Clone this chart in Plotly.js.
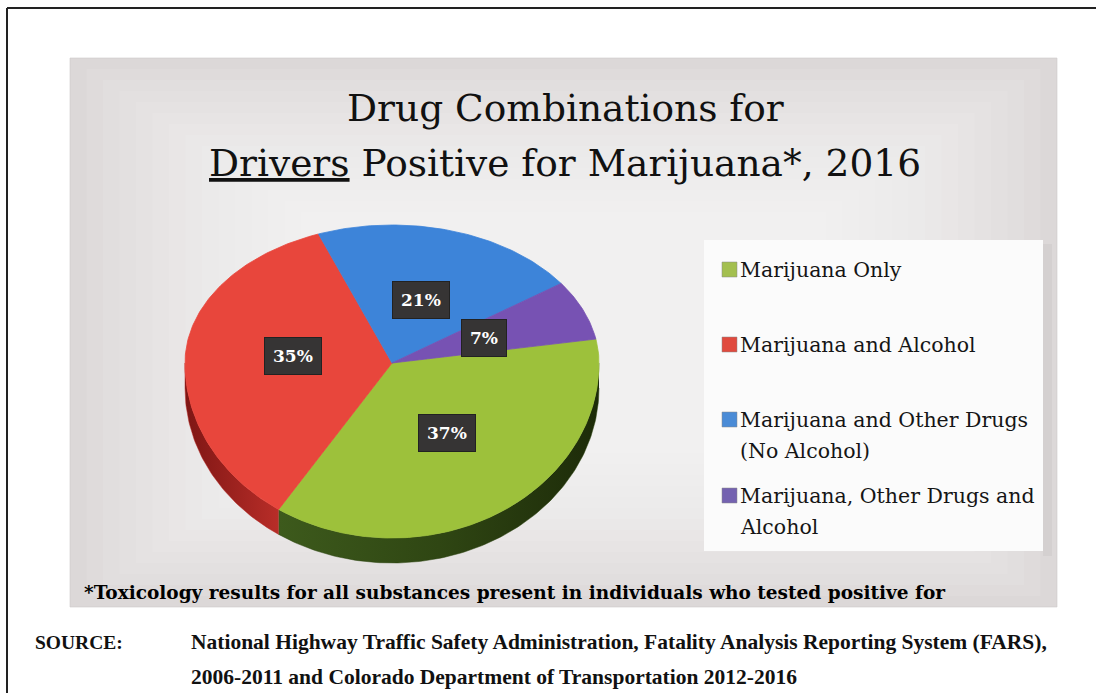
<!DOCTYPE html>
<html>
<head>
<meta charset="utf-8">
<script src="https://cdn.plot.ly/plotly-3.0.1.min.js"></script>
<style>html,body{margin:0;padding:0;background:#fff;}#chart{width:1096px;height:693px;}</style>
</head>
<body>
<div id="chart"></div>
<script>
// ---- data ----
const categories = ["Marijuana Only", "Marijuana and Alcohol", "Marijuana and Other Drugs<br>(No Alcohol)", "Marijuana, Other Drugs and<br>Alcohol"];
const values = [37, 35, 21, 7];
const topColors = ["#9dc13b", "#e8463c", "#3d84d9", "#7752b3"];
const legendColors = ["#a3bf4f", "#e04a3e", "#4a8bd6", "#7462b0"];
const sideScales = [
  [[0, "#3d5a1c"], [0.5, "#2f4613"], [1, "#1d2b09"]],
  [[0, "#7e1614"], [1, "#b82d28"]],
  [[0, "#1f4f8c"], [1, "#2c65aa"]],
  [[0, "#44306e"], [1, "#563e8a"]]
];
const titleLines = ["Drug Combinations for", "<u>Drivers</u> Positive for Marijuana*, 2016"];
const footnote = "*Toxicology results for all substances present in individuals who tested positive for";
const sourceLabel = "SOURCE:";
const sourceLines = ["National Highway Traffic Safety Administration, Fatality Analysis Reporting System (FARS),", "2006-2011 and Colorado Department of Transportation 2012-2016"];

// ---- geometry (layout) ----
const W = 1096, H = 693;
const px = x => x / W, py = y => 1 - y / H;
const R = 207;           // horizontal radius in px = 1 data unit
const CX = 392, CY = 363; // pie centre in px
const kTop = 138 / R, kBot = 175 / R, depth = 25 / R;
const startAngle = 10;   // degrees, slices run clockwise
const xr = [-1.1, 1.1], yr = [-1.1, 0.8];
const xDomain = [px(CX + xr[0] * R), px(CX + xr[1] * R)];
const yDomain = [py(CY - yr[0] * R), py(CY - yr[1] * R)];

function pt(deg, drop) {
  const t = deg * Math.PI / 180;
  const s = Math.sin(t);
  return [Math.cos(t), s * (s > 0 ? kTop : kBot) - drop];
}
function arc(a1, a2, drop) {
  const xs = [], ys = [];
  const n = Math.max(2, Math.ceil(Math.abs(a1 - a2)));
  for (let i = 0; i <= n; i++) {
    const a = a1 + (a2 - a1) * i / n;
    const p = pt(a, drop);
    xs.push(p[0]); ys.push(p[1]);
  }
  return [xs, ys];
}

const total = values.reduce((a, b) => a + b, 0);
const slices = [];
let cum = startAngle;
values.forEach((v, i) => {
  const a1 = cum, a2 = cum - v / total * 360;
  slices.push({a1, a2, i});
  cum = a2;
});

const sideTraces = [], topTraces = [];
slices.forEach(s => {
  [[-180, 0], [-540, -360], [180, 360]].forEach(([f1, f2]) => {
    const lo = Math.max(s.a2, f1), hi = Math.min(s.a1, f2);
    if (hi > lo) {
      const top = arc(hi, lo, 0), bot = arc(lo, hi, depth);
      sideTraces.push({
        type: "scatter", mode: "lines", fill: "toself",
        x: top[0].concat(bot[0]), y: top[1].concat(bot[1]),
        line: {width: 0.5, color: sideScales[s.i][1][1]},
        fillcolor: sideScales[s.i][1][1],
        fillgradient: {type: "horizontal", colorscale: sideScales[s.i]},
        hoverinfo: "skip", showlegend: false
      });
    }
  });
  const a = arc(s.a1, s.a2, 0);
  topTraces.push({
    type: "scatter", mode: "lines", fill: "toself",
    x: [0].concat(a[0], [0]), y: [0].concat(a[1], [0]),
    line: {width: 0.8, color: topColors[s.i]},
    fillcolor: topColors[s.i],
    name: categories[s.i].replace("<br>", " "),
    text: values[s.i] + "%", hoverinfo: "name+text", showlegend: false
  });
});

const annotations = [];
slices.forEach(s => {
  const mid = (s.a1 + s.a2) / 2;
  const p = pt(mid, 0);
  annotations.push({
    xref: "x", yref: "y", x: p[0] * 0.48, y: p[1] * 0.48,
    text: values[s.i] + "%", showarrow: false,
    font: {family: "DejaVu Serif", size: 17, color: "#ffffff", weight: "bold"},
    bgcolor: "#363434", bordercolor: "#222222", borderwidth: 1, borderpad: 8
  });
});
const titleY = [108, 163];
titleLines.forEach((t, i) => annotations.push({
  xref: "paper", yref: "paper", x: px(565), y: py(titleY[i]), xanchor: "center", yanchor: "middle",
  text: t, showarrow: false, font: {family: "DejaVu Serif", size: 37.5, color: "#111111"}
}));
const legendY = [270, 345, 420, 496];
const shapes = [];
categories.forEach((c, i) => {
  c.split("<br>").forEach((line, j) => annotations.push({
    xref: "paper", yref: "paper", x: px(738), y: py(legendY[i] + j * 31), xanchor: "left", yanchor: "middle",
    text: line, showarrow: false, font: {family: "DejaVu Serif", size: 20.5, color: "#151515"}
  }));
  shapes.push({type: "rect", xref: "paper", yref: "paper", x0: px(722), x1: px(737), y0: py(legendY[i] - 8), y1: py(legendY[i] + 7),
    fillcolor: legendColors[i], line: {width: 0.5, color: "#888"}, layer: "above"});
});
annotations.push({xref: "paper", yref: "paper", x: px(82), y: py(592), xanchor: "left", yanchor: "middle",
  text: footnote, showarrow: false, font: {family: "DejaVu Serif", size: 18.5, color: "#000", weight: "bold"}});
annotations.push({xref: "paper", yref: "paper", x: px(33), y: py(642), xanchor: "left", yanchor: "middle",
  text: sourceLabel, showarrow: false, font: {family: "Liberation Serif", size: 19.5, color: "#111", weight: "bold"}});
sourceLines.forEach((t, i) => annotations.push({xref: "paper", yref: "paper", x: px(189), y: py(642 + i * 35), xanchor: "left", yanchor: "middle",
  text: t, showarrow: false, font: {family: "Liberation Serif", size: 21.5, color: "#111", weight: "bold"}}));

// background panel (soft stepped gradient), legend box, page border
const bgShapes = [
  {type: "rect", xref: "paper", yref: "paper", x0: px(70), x1: px(1057), y0: py(58), y1: py(607), fillcolor: "#dcd8d8", line: {width: 0.6, color: "#cfcaca"}, layer: "below"}
];
for (let k = 1; k <= 14; k++) {
  const inset = k * 11;
  bgShapes.push({type: "rect", xref: "paper", yref: "paper", x0: px(70 + inset * 1.5), x1: px(1057 - inset * 1.5), y0: py(58 + inset), y1: py(607 - inset),
    fillcolor: "#ffffff", opacity: 0.085, line: {width: 0}, layer: "below"});
}
bgShapes.push({type: "rect", xref: "paper", yref: "paper", x0: px(1043), x1: px(1052), y0: py(244), y1: py(556), fillcolor: "#cfcbcb", opacity: 0.6, line: {width: 0}, layer: "below"});
bgShapes.push({type: "rect", xref: "paper", yref: "paper", x0: px(704), x1: px(1043), y0: py(240), y1: py(551), fillcolor: "#fbfbfb", line: {width: 0}, layer: "below"});
bgShapes.push({type: "line", xref: "paper", yref: "paper", x0: px(7), x1: px(7), y0: py(8), y1: py(693), line: {width: 2, color: "#222"}});
bgShapes.push({type: "line", xref: "paper", yref: "paper", x0: px(7), x1: px(1096), y0: py(8), y1: py(8), line: {width: 2, color: "#222"}});

const layout = {
  width: W, height: H, margin: {l: 0, r: 0, t: 0, b: 0},
  paper_bgcolor: "#ffffff", plot_bgcolor: "rgba(0,0,0,0)",
  showlegend: false,
  xaxis: {domain: xDomain, range: xr, visible: false, fixedrange: true},
  yaxis: {domain: yDomain, range: yr, visible: false, fixedrange: true},
  shapes: bgShapes.concat(shapes),
  annotations: annotations
};

Plotly.newPlot("chart", sideTraces.concat(topTraces), layout, {displayModeBar: false, staticPlot: true});
</script>
</body>
</html>
